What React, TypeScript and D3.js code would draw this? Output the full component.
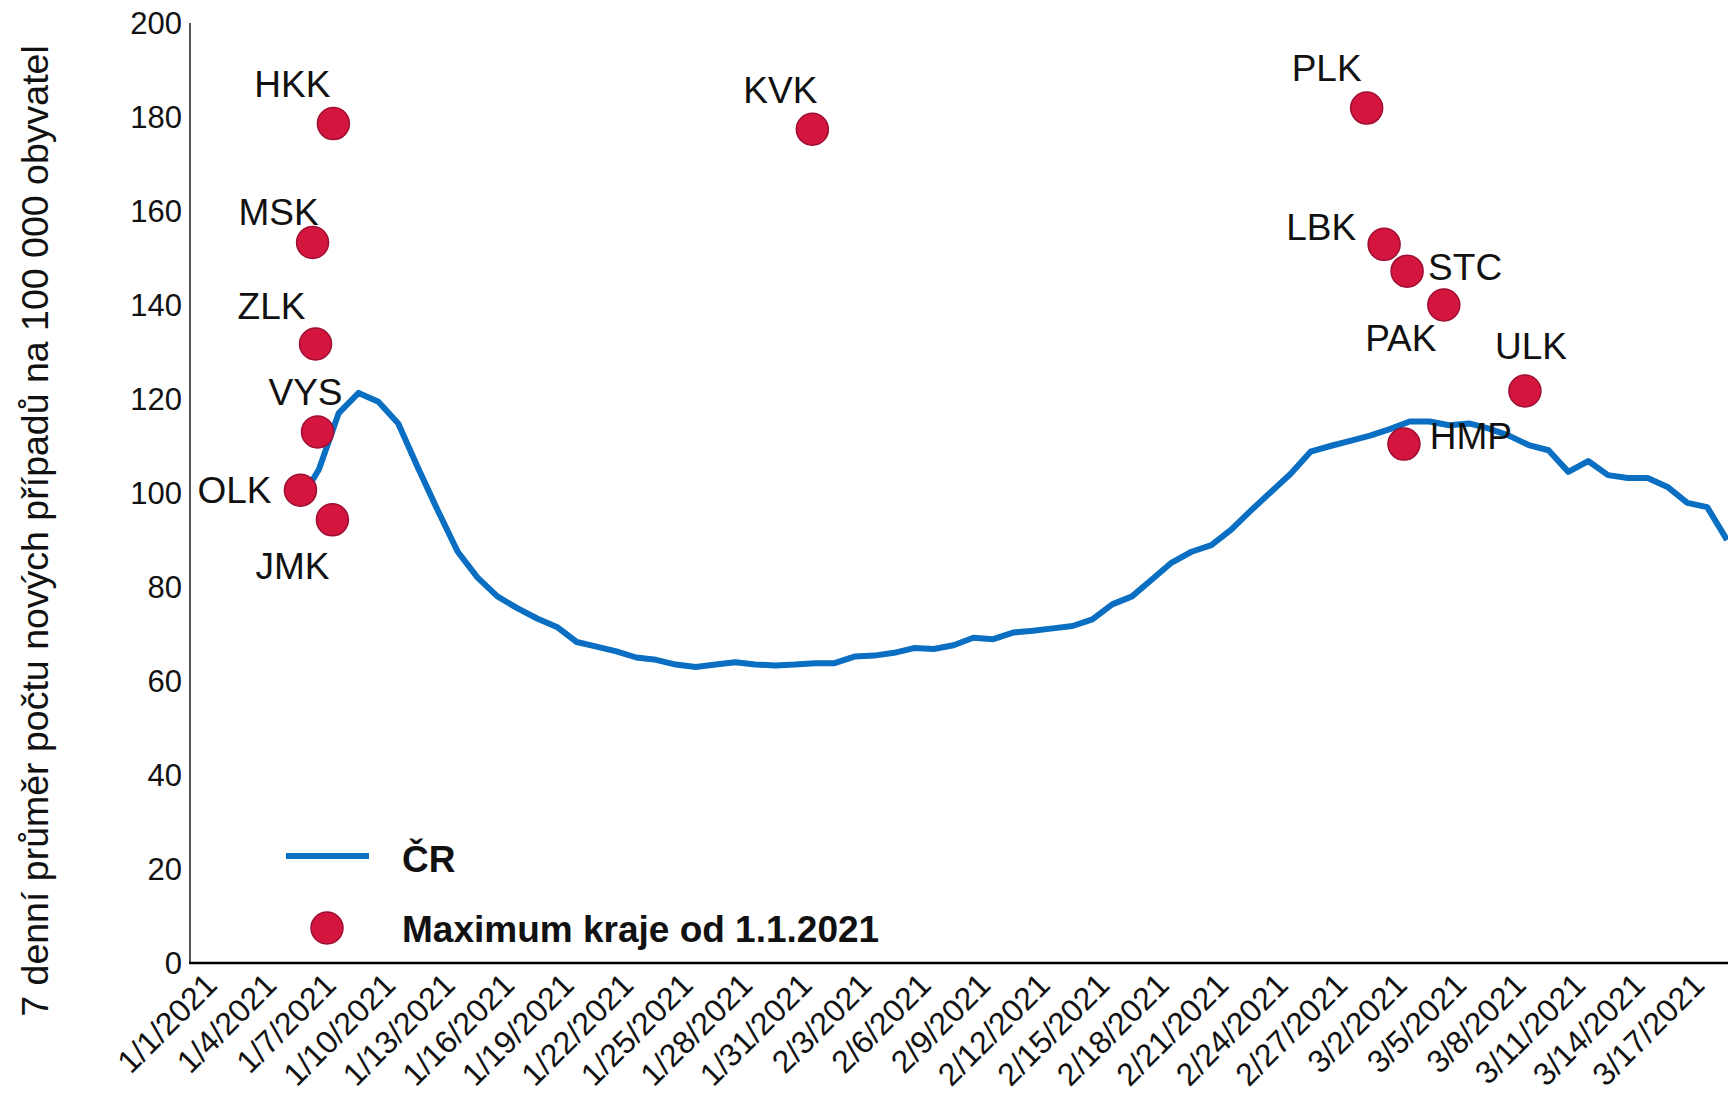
import React from "react";
import * as d3 from "d3";

// ČR 7-day average per 100k, by day index (0 = 1/1/2021)
const lineStartDay = 5;
const crValues = [
  98, 105, 117, 121.3, 119.4, 114.8, 105.3, 96.2, 87.5, 82, 78, 75.5, 73.3, 71.5, 68.3,
  67.3, 66.3, 65, 64.5, 63.5, 63, 63.5, 64, 63.5, 63.3, 63.5, 63.8, 63.8, 65.2, 65.4, 66,
  67, 66.8, 67.6, 69.2, 68.9, 70.3, 70.7, 71.2, 71.7, 73.1, 76.3, 78, 81.6, 85.2, 87.5,
  88.9, 92.2, 96.3, 100.2, 104.1, 108.8, 110, 111.1, 112.2, 113.6, 115.2, 115.2, 114.4,
  114.8, 113.7, 112.2, 110.2, 109.1, 104.5, 106.8, 103.8, 103.2, 103.2, 101.3, 97.9, 97, 90,
];

// Regional maxima since 1.1.2021
const regionNames = ["HKK", "MSK", "ZLK", "VYS", "OLK", "JMK", "KVK", "PLK", "LBK", "STC", "PAK", "ULK", "HMP"];
const regionDays = [6.73, 5.68, 5.83, 5.93, 5.07, 6.68, 30.88, 58.83, 59.71, 60.87, 62.72, 66.81, 60.71];
const regionMax = [178.6, 153.3, 131.7, 113, 100.6, 94.3, 177.4, 181.9, 152.9, 147.2, 140, 121.7, 110.4];

// label placement relative to the dot (px)
const labelOffsets: [number, number][] = [
  [-41, -39], [-34, -30], [-44, -38], [-12, -39], [-66, 0], [-40, 47], [-32, -39],
  [-40, -40], [-63, -17], [58, -4], [-43, 33], [6, -45], [67, -8],
];

const yTicks = [0, 20, 40, 60, 80, 100, 120, 140, 160, 180, 200];
const xTickDays = d3.range(0, 76, 3);
const yTitle = "7 denní průměr počtu nových případů na 100 000 obyvatel";
const legendLine = "ČR";
const legendDot = "Maximum kraje od 1.1.2021";

const W = 1728;
const H = 1093;
const FONT = "'Liberation Sans', Arial, Helvetica, sans-serif";
const BLUE = "#0a6fc2";
const RED = "#d4163f";
const RED_STROKE = "#9e0e32";

export default function App() {
  const x = d3.scaleLinear().domain([-0.5, 77.05]).range([190, 1728]);
  const y = d3.scaleLinear().domain([0, 200]).range([963, 23]);

  const pts: [number, number][] = crValues.map((v, i) => [lineStartDay + i, v]);
  const linePath = d3
    .line<[number, number]>()
    .x((d) => x(d[0]))
    .y((d) => y(d[1]))(pts) as string;

  const fmt = d3.timeFormat("%-m/%-d/%Y");
  const base = new Date(2021, 0, 1);

  return (
    <svg
      width={W}
      height={H}
      viewBox={`0 0 ${W} ${H}`}
      style={{ position: "absolute", left: 0, top: 0, background: "#fff" }}
      fontFamily={FONT}
    >
      <rect x={0} y={0} width={W} height={H} fill="#fff" />

      {/* y axis title */}
      <text
        transform={`translate(35,531) rotate(-90)`}
        textAnchor="middle"
        dominantBaseline="central"
        fontSize={37.5}
        fill="#111"
      >
        {yTitle}
      </text>

      {/* y tick labels */}
      {yTicks.map((t) => (
        <text key={t} x={182} y={y(t)} textAnchor="end" dominantBaseline="central" fontSize={31} fill="#111">
          {t}
        </text>
      ))}

      {/* x tick labels */}
      {xTickDays.map((dd) => {
        const dt = d3.timeDay.offset(base, dd);
        const px = x(dd) + 19;
        const py = 987;
        return (
          <text
            key={dd}
            transform={`translate(${px},${py}) rotate(-45)`}
            textAnchor="end"
            fontSize={32}
            fill="#111"
          >
            {fmt(dt)}
          </text>
        );
      })}

      {/* axes */}
      <line x1={190} y1={y(200)} x2={190} y2={y(0)} stroke="#555" strokeWidth={2} />
      <line x1={189} y1={y(0)} x2={W} y2={y(0)} stroke="#000" strokeWidth={2.5} />

      {/* CR line */}
      <path d={linePath} fill="none" stroke={BLUE} strokeWidth={6} strokeLinejoin="round" />

      {/* regional maxima */}
      {regionNames.map((n, i) => {
        const cx = x(regionDays[i]);
        const cy = y(regionMax[i]);
        const [dx, dy] = labelOffsets[i];
        return (
          <g key={n}>
            <circle cx={cx} cy={cy} r={16} fill={RED} stroke={RED_STROKE} strokeWidth={1.5} />
            <text
              x={cx + dx}
              y={cy + dy}
              textAnchor="middle"
              dominantBaseline="central"
              fontSize={37}
              fill="#111"
            >
              {n}
            </text>
          </g>
        );
      })}

      {/* legend */}
      <line x1={286} y1={856} x2={369} y2={856} stroke={BLUE} strokeWidth={6} />
      <text x={402} y={859} dominantBaseline="central" fontSize={37} fontWeight="bold" fill="#111">
        {legendLine}
      </text>
      <circle cx={327} cy={928} r={16} fill={RED} stroke={RED_STROKE} strokeWidth={1.5} />
      <text x={402} y={929} dominantBaseline="central" fontSize={37} fontWeight="bold" fill="#111">
        {legendDot}
      </text>
    </svg>
  );
}
